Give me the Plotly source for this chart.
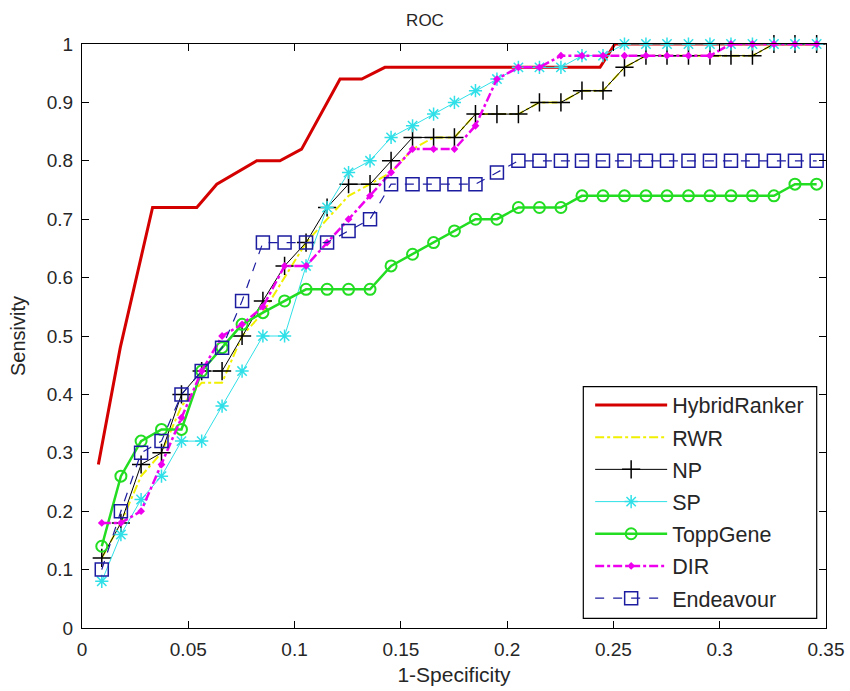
import plotly.graph_objects as go

# Shared false-positive-rate grid (1-Specificity)
fpr = [0.0093, 0.0183, 0.0278, 0.0374, 0.0468, 0.0563, 0.0659, 0.0753, 0.0851, 0.0953,
       0.1054, 0.1153, 0.1254, 0.1355, 0.1454, 0.1555, 0.1654, 0.1752, 0.1851, 0.1952,
       0.2053, 0.2152, 0.2253, 0.2352, 0.2451, 0.2552, 0.2653, 0.2752, 0.2853, 0.2954,
       0.3053, 0.3154, 0.3255, 0.3354, 0.3456]

hybrid_x = [0.0077, 0.0180, 0.0332, 0.0540, 0.0634, 0.0822, 0.0931, 0.1033, 0.1214,
            0.1316, 0.1425, 0.2437, 0.2507, 0.3456]
hybrid_y = [0.28, 0.48, 0.72, 0.72, 0.76, 0.80, 0.80, 0.82, 0.94,
            0.94, 0.96, 0.96, 1.00, 1.00]

rwr = [0.12, 0.18, 0.26, 0.30, 0.38, 0.42, 0.42, 0.50, 0.54, 0.60,
       0.66, 0.70, 0.74, 0.76, 0.78, 0.82, 0.84, 0.84, 0.88, 0.88,
       0.88, 0.90, 0.90, 0.92, 0.92, 0.96, 0.98, 0.98, 0.98, 0.98,
       0.98, 0.98, 1.00, 1.00, 1.00]

np_vals = [0.12, 0.18, 0.28, 0.30, 0.40, 0.44, 0.44, 0.50, 0.56, 0.62,
           0.66, 0.72, 0.76, 0.76, 0.80, 0.84, 0.84, 0.84, 0.88, 0.88,
           0.88, 0.90, 0.90, 0.92, 0.92, 0.96, 0.98, 0.98, 0.98, 0.98,
           0.98, 0.98, 1.00, 1.00, 1.00]

sp = [0.08, 0.16, 0.22, 0.26, 0.32, 0.32, 0.38, 0.44, 0.50, 0.50,
      0.62, 0.72, 0.78, 0.80, 0.84, 0.86, 0.88, 0.90, 0.92, 0.94,
      0.96, 0.96, 0.96, 0.98, 0.98, 1.00, 1.00, 1.00, 1.00, 1.00,
      1.00, 1.00, 1.00, 1.00, 1.00]

toppgene = [0.14, 0.26, 0.32, 0.34, 0.34, 0.44, 0.48, 0.52, 0.54, 0.56,
            0.58, 0.58, 0.58, 0.58, 0.62, 0.64, 0.66, 0.68, 0.70, 0.70,
            0.72, 0.72, 0.72, 0.74, 0.74, 0.74, 0.74, 0.74, 0.74, 0.74,
            0.74, 0.74, 0.74, 0.76, 0.76]

dir_vals = [0.18, 0.18, 0.20, 0.28, 0.36, 0.44, 0.50, 0.52, 0.55, 0.62,
            0.62, 0.66, 0.70, 0.74, 0.78, 0.82, 0.82, 0.82, 0.86, 0.94,
            0.96, 0.96, 0.98, 0.98, 0.98, 0.98, 0.98, 0.98, 0.98, 0.98,
            1.00, 1.00, 1.00, 1.00, 1.00]

endeavour = [0.10, 0.20, 0.30, 0.32, 0.40, 0.44, 0.48, 0.56, 0.66, 0.66,
             0.66, 0.66, 0.68, 0.70, 0.76, 0.76, 0.76, 0.76, 0.76, 0.78,
             0.80, 0.80, 0.80, 0.80, 0.80, 0.80, 0.80, 0.80, 0.80, 0.80,
             0.80, 0.80, 0.80, 0.80, 0.80]

x_ticks = [0, 0.05, 0.1, 0.15, 0.2, 0.25, 0.3, 0.35]
x_tick_labels = ["0", "0.05", "0.1", "0.15", "0.2", "0.25", "0.3", "0.35"]
y_ticks = [0, 0.1, 0.2, 0.3, 0.4, 0.5, 0.6, 0.7, 0.8, 0.9, 1.0]
y_tick_labels = ["0", "0.1", "0.2", "0.3", "0.4", "0.5", "0.6", "0.7", "0.8", "0.9", "1"]

FONT = "Liberation Sans, Arial, sans-serif"
TXT = "#262626"

fig = go.Figure()
fig.add_trace(go.Scatter(x=hybrid_x, y=hybrid_y, name="HybridRanker", mode="lines",
                         legend="legend", cliponaxis=False,
                         line=dict(color="#d40000", width=3)))
fig.add_trace(go.Scatter(x=fpr, y=rwr, name="RWR", mode="lines", legend="legend2",
                         cliponaxis=False,
                         line=dict(color="#f0f000", width=2, dash="dashdot")))
fig.add_trace(go.Scatter(x=fpr, y=np_vals, name="NP", mode="lines+markers", legend="legend3",
                         cliponaxis=False,
                         line=dict(color="black", width=1),
                         marker=dict(symbol="cross-thin-open", size=13,
                                     line=dict(color="black", width=1.5))))
fig.add_trace(go.Scatter(x=fpr, y=sp, name="SP", mode="lines+markers", legend="legend4",
                         cliponaxis=False,
                         line=dict(color="#30e0e8", width=1),
                         marker=dict(symbol="asterisk-open", size=11,
                                     line=dict(color="#30e0e8", width=1.5))))
fig.add_trace(go.Scatter(x=fpr, y=toppgene, name="ToppGene", mode="lines+markers",
                         legend="legend5", cliponaxis=False,
                         line=dict(color="#22dd22", width=2.5),
                         marker=dict(symbol="circle-open", size=11,
                                     line=dict(color="#22dd22", width=2))))
fig.add_trace(go.Scatter(x=fpr, y=dir_vals, name="DIR", mode="lines+markers", legend="legend6",
                         cliponaxis=False,
                         line=dict(color="#ee00ee", width=2.5, dash="dashdot"),
                         marker=dict(symbol="diamond", size=6, color="#ee00ee")))
fig.add_trace(go.Scatter(x=fpr, y=endeavour, name="Endeavour", mode="lines+markers",
                         legend="legend7", cliponaxis=False,
                         line=dict(color="#1c1ca0", width=1.2, dash="dash"),
                         marker=dict(symbol="square-open", size=13,
                                     line=dict(color="#1c1ca0", width=1.5))))

axis_common = dict(showline=True, linecolor="black", linewidth=1.2, mirror="ticks",
                   ticks="inside", ticklen=7, tickcolor="black", tickwidth=1,
                   showgrid=False, zeroline=False, automargin=False,
                   tickfont=dict(family=FONT, size=19, color=TXT))

# one legend per entry so the row spacing can match the original
legend_rows = [0.3818, 0.3267, 0.2716, 0.2164, 0.1613, 0.1062, 0.0510]
legend_style = dict(x=0.683, xanchor="left", yanchor="middle",
                    bgcolor="rgba(0,0,0,0)", borderwidth=0,
                    font=dict(family=FONT, size=21.5, color=TXT),
                    itemwidth=72)
legends = {}
for i, yv in enumerate(legend_rows):
    key = "legend" if i == 0 else f"legend{i + 1}"
    legends[key] = dict(y=yv, **legend_style)

fig.update_layout(
    width=850, height=691,
    margin=dict(l=82, r=24, t=44, b=63, autoexpand=False),
    paper_bgcolor="white", plot_bgcolor="white",
    title=dict(text="ROC", x=0.5, xanchor="center", y=0.971, yanchor="middle",
               font=dict(family=FONT, size=17, color=TXT)),
    font=dict(family=FONT, color=TXT),
    xaxis=dict(range=[0, 0.35], tickvals=x_ticks, ticktext=x_tick_labels,
               ticklabelstandoff=4,
               title=dict(text="1-Specificity", font=dict(family=FONT, size=21, color=TXT),
                          standoff=8),
               **axis_common),
    yaxis=dict(range=[0, 1], tickvals=y_ticks, ticktext=y_tick_labels,
               ticklabelstandoff=4,
               title=dict(text="Sensivity", font=dict(family=FONT, size=20, color=TXT),
                          standoff=15),
               **axis_common),
    showlegend=True,
    shapes=[dict(type="rect", xref="paper", yref="paper",
                 x0=0.6738, x1=0.9875, y0=0.0166, y1=0.4132,
                 line=dict(color="black", width=1.2), fillcolor="white", layer="below")],
    **legends,
)

fig.write_html("out.html", config={"displayModeBar": False},
               post_script="document.body.style.margin='0';")
